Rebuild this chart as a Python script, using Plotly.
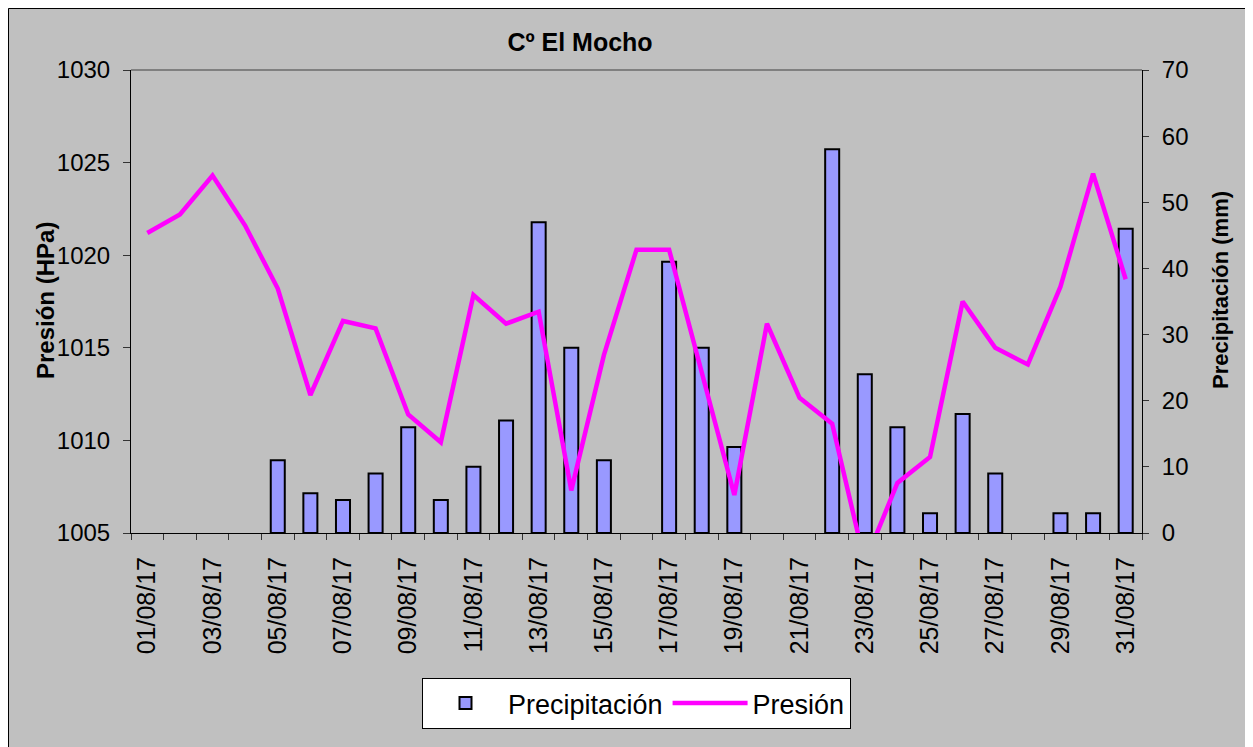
import plotly.graph_objects as go

# datos del gráfico
fechas = ["01/08/17", "02/08/17", "03/08/17", "04/08/17", "05/08/17", "06/08/17", "07/08/17",
          "08/08/17", "09/08/17", "10/08/17", "11/08/17", "12/08/17", "13/08/17", "14/08/17",
          "15/08/17", "16/08/17", "17/08/17", "18/08/17", "19/08/17", "20/08/17", "21/08/17",
          "22/08/17", "23/08/17", "24/08/17", "25/08/17", "26/08/17", "27/08/17", "28/08/17",
          "29/08/17", "30/08/17", "31/08/17"]

# precipitación (mm), None = sin lluvia
precipitacion = [None, None, None, None, 11, 6, 5, 9, 16, 5, 10, 17, 47, 28, 11, None,
                 41, 28, 13, None, None, 58, 24, 16, 3, 18, 9, None, 3, 3, 46]

# presión (HPa)
presion = [1021.2, 1022.2, 1024.3, 1021.6, 1018.2, 1012.45, 1016.45, 1016.05, 1011.4, 1009.9,
           1017.85, 1016.3, 1016.95, 1007.3, 1014.6, 1020.3, 1020.3, 1013.7, 1007.05, 1016.3,
           1012.3, 1010.9, 1003.4, 1007.7, 1009.1, 1017.5, 1015.0, 1014.1, 1018.3, 1024.4, 1018.7]

# sólo se rotulan los días impares
etiquetas = [f if i % 2 == 0 else "" for i, f in enumerate(fechas)]

FUENTE = "Liberation Sans, Arial, sans-serif"

# la página tiene 8 px de margen, el gráfico mide 1245 x 739
W, H = 1245, 739
L, R, T, B = 123, 111, 62, 214
PW, PH = W - L - R, H - T - B

fig = go.Figure()

fig.add_trace(go.Bar(
    x=fechas, y=precipitacion, name="Precipitación", yaxis="y",
    width=0.43, marker=dict(color="#9999FF", line=dict(color="black", width=2)),
))

fig.add_trace(go.Scatter(
    x=fechas, y=presion, name="Presión", yaxis="y2", mode="lines",
    line=dict(color="#FF00FF", width=4.5),
))

fig.update_layout(
    width=W, height=H,
    margin=dict(l=L, r=R, t=T, b=B, autoexpand=False),
    paper_bgcolor="#C0C0C0", plot_bgcolor="white",
    font=dict(family=FUENTE, size=24, color="black"),
    title=dict(text="<b>Cº El Mocho</b>", x=(580 - 131) / PW, xref="paper", xanchor="center",
               y=1 - 34 / H, yref="container", yanchor="middle",
               font=dict(size=25)),
    xaxis=dict(type="category", tickmode="array", tickvals=fechas, ticktext=etiquetas,
               tickson="boundaries", ticks="outside", ticklen=6, tickcolor="#333",
               tickangle=-90, showline=True, linecolor="black", linewidth=1,
               showgrid=False, range=[-0.5, 30.5], ticklabelstandoff=13,
               tickfont=dict(size=25)),
    yaxis=dict(side="right", range=[0, 70], dtick=10, ticks="outside", ticklen=6,
               tickcolor="#333", showline=True, linecolor="black", showgrid=False,
               zeroline=False, ticklabelstandoff=8),
    yaxis2=dict(overlaying="y", side="left", range=[1005, 1030], dtick=5, ticks="outside",
                ticklen=7, tickcolor="#333", showline=True, linecolor="black",
                showgrid=False, zeroline=False, ticklabelstandoff=8),
    legend=dict(orientation="h", x=0.5, xanchor="center", y=-145 / PH, yanchor="top",
                bgcolor="white", bordercolor="black", borderwidth=1,
                font=dict(size=27), itemwidth=75, traceorder="normal"),
    showlegend=True,
)

# borde negro del gráfico y borde superior del área de trazado
fig.add_shape(type="rect", xref="paper", yref="paper", layer="below",
              x0=(0.5 - L) / PW, x1=1.3, y0=-0.7, y1=(PH + T - 0.5) / PH,
              fillcolor="#C0C0C0", line=dict(color="black", width=1))
fig.add_shape(type="line", xref="paper", yref="paper", x0=0, x1=1, y0=1, y1=1,
              line=dict(color="#808080", width=2))

# títulos de ejes
fig.add_annotation(text="<b>Presión (HPa)</b>", xref="paper", yref="paper",
                   x=(45 - 131) / PW, y=(533 - 301) / PH, textangle=-90,
                   xanchor="center", yanchor="middle", showarrow=False, font=dict(size=24))
fig.add_annotation(text="<b>Precipitación (mm)</b>", xref="paper", yref="paper",
                   x=(1220 - 131) / PW, y=(533 - 290) / PH, textangle=-90,
                   xanchor="center", yanchor="middle", showarrow=False, font=dict(size=22))

fig.write_html("out.html")
